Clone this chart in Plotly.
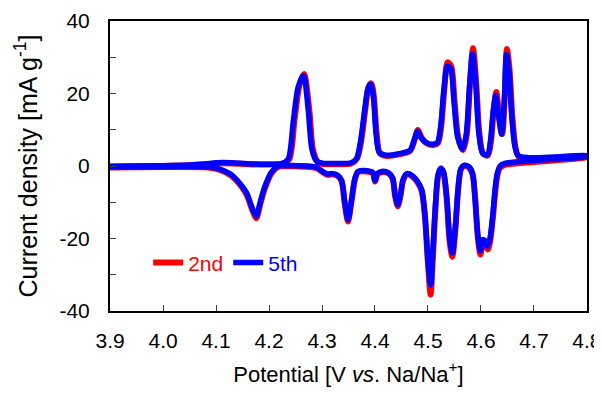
import plotly.graph_objects as go

# ---- 5th cycle (blue) ----
pot_5th_ox = [3.900, 3.950, 4.000, 4.050, 4.085, 4.100, 4.130, 4.160, 4.200, 4.225,
              4.236, 4.246, 4.255, 4.265, 4.274, 4.281, 4.290, 4.300, 4.330, 4.355,
              4.365, 4.373, 4.381, 4.387, 4.392, 4.397, 4.402, 4.408, 4.420, 4.445,
              4.466, 4.474, 4.480, 4.487, 4.497, 4.510, 4.518, 4.524, 4.530, 4.537,
              4.543, 4.549, 4.556, 4.565, 4.572, 4.578, 4.584, 4.590, 4.596, 4.603,
              4.612, 4.618, 4.623, 4.628, 4.633, 4.639, 4.644, 4.648, 4.653, 4.658,
              4.664, 4.670, 4.690, 4.740, 4.800]
cur_5th_ox = [-0.1, 0.0, 0.1, 0.3, 0.6, 0.9, 0.9, 0.6, 0.5, 0.7,
              1.8, 12.5, 21.8, 25.0, 15.5, 4.6, 1.3, 0.8, 0.7, 0.9,
              2.0, 7.0, 16.0, 21.5, 22.5, 19.0, 9.0, 3.8, 3.0, 3.4,
              4.3, 7.2, 9.6, 7.8, 6.4, 6.0, 6.5, 11.0, 21.0, 27.6,
              26.8, 18.0, 8.0, 4.6, 8.5, 21.0, 31.0, 23.0, 9.0, 3.6,
              3.0, 7.0, 15.0, 19.5, 14.0, 8.8, 18.0, 30.8, 26.0, 14.0,
              5.5, 2.9, 2.3, 2.5, 2.9]
pot_5th_rd = [4.800, 4.750, 4.700, 4.665, 4.645, 4.636, 4.631, 4.627, 4.622, 4.617,
              4.612, 4.607, 4.603, 4.599, 4.594, 4.589, 4.584, 4.577, 4.568, 4.562,
              4.557, 4.552, 4.546, 4.541, 4.535, 4.529, 4.524, 4.519, 4.514, 4.509,
              4.505, 4.500, 4.494, 4.488, 4.480, 4.470, 4.460, 4.453, 4.448, 4.443,
              4.438, 4.433, 4.425, 4.413, 4.405, 4.400, 4.396, 4.385, 4.368, 4.362,
              4.356, 4.349, 4.343, 4.337, 4.330, 4.320, 4.310, 4.300, 4.290, 4.270,
              4.230, 4.218, 4.205, 4.192, 4.183, 4.176, 4.168, 4.158, 4.145, 4.130,
              4.115, 4.100, 4.085, 4.000, 3.900]
cur_5th_rd = [2.6, 2.0, 1.5, 1.1, 0.7, 0.0, -2.0, -6.0, -14.0, -20.0,
              -22.2, -20.5, -20.3, -23.4, -19.0, -9.0, -2.0, -0.2, 0.2, -0.8,
              -6.0, -16.0, -24.0, -20.0, -8.0, -1.5, -0.6, -2.5, -11.0, -24.0,
              -32.8, -26.0, -13.0, -6.5, -4.2, -2.6, -2.1, -3.8, -8.0, -10.7,
              -8.0, -3.2, -1.8, -1.5, -2.0, -4.1, -1.8, -1.3, -1.5, -3.5,
              -9.0, -14.8, -10.0, -4.0, -2.6, -2.1, -2.2, -1.4, -0.4, 0.0,
              0.1, 0.0, -1.6, -5.7, -10.2, -13.8, -11.5, -7.5, -4.8, -2.5,
              -1.3, -0.6, -0.2, -0.2, -0.3]

# ---- 2nd cycle (red) ----
pot_2nd_ox = [3.900, 3.950, 4.000, 4.050, 4.085, 4.100, 4.130, 4.160, 4.200, 4.225,
              4.238, 4.248, 4.257, 4.266, 4.276, 4.283, 4.292, 4.300, 4.330, 4.355,
              4.366, 4.374, 4.382, 4.388, 4.393, 4.398, 4.403, 4.409, 4.420, 4.445,
              4.466, 4.475, 4.481, 4.488, 4.498, 4.510, 4.519, 4.525, 4.531, 4.537,
              4.544, 4.550, 4.557, 4.566, 4.573, 4.579, 4.585, 4.591, 4.597, 4.604,
              4.613, 4.619, 4.624, 4.629, 4.634, 4.640, 4.645, 4.649, 4.654, 4.659,
              4.665, 4.671, 4.690, 4.740, 4.800]
cur_2nd_ox = [-0.2, -0.1, 0.0, 0.2, 0.5, 0.7, 0.7, 0.5, 0.4, 0.6,
              1.8, 12.5, 22.0, 25.4, 15.5, 4.4, 1.1, 0.6, 0.5, 0.7,
              2.0, 7.0, 16.0, 21.8, 22.8, 19.0, 9.0, 3.6, 2.8, 3.2,
              4.1, 7.3, 9.9, 7.8, 6.2, 5.8, 6.4, 11.0, 21.5, 28.6,
              27.4, 18.0, 8.0, 4.4, 8.5, 22.0, 32.5, 23.0, 9.0, 3.4,
              2.9, 7.0, 15.5, 20.4, 14.0, 8.8, 19.0, 32.3, 26.5, 14.0,
              5.2, 2.6, 2.0, 2.3, 2.7]
pot_2nd_rd = [4.800, 4.750, 4.700, 4.665, 4.645, 4.636, 4.631, 4.627, 4.622, 4.617,
              4.613, 4.608, 4.604, 4.599, 4.594, 4.589, 4.584, 4.577, 4.568, 4.562,
              4.557, 4.552, 4.546, 4.541, 4.535, 4.529, 4.524, 4.519, 4.514, 4.509,
              4.505, 4.500, 4.494, 4.488, 4.480, 4.470, 4.460, 4.453, 4.448, 4.443,
              4.438, 4.433, 4.425, 4.413, 4.405, 4.400, 4.396, 4.385, 4.368, 4.362,
              4.356, 4.349, 4.343, 4.337, 4.330, 4.320, 4.310, 4.300, 4.290, 4.270,
              4.230, 4.218, 4.205, 4.192, 4.183, 4.176, 4.168, 4.158, 4.145, 4.130,
              4.115, 4.100, 4.085, 4.000, 3.900]
cur_2nd_rd = [2.4, 1.7, 1.1, 0.7, 0.3, -0.5, -2.5, -7.0, -15.0, -21.0,
              -23.0, -21.5, -21.0, -24.4, -19.5, -9.0, -2.2, -0.4, 0.0, -1.0,
              -6.5, -17.0, -25.0, -21.0, -8.5, -1.8, -0.8, -2.8, -12.0, -26.0,
              -35.5, -27.0, -13.5, -6.8, -4.4, -2.8, -2.3, -4.0, -8.3, -11.1,
              -8.3, -3.4, -2.0, -1.7, -2.2, -4.3, -2.0, -1.5, -1.7, -3.8,
              -9.5, -15.3, -10.5, -4.2, -2.8, -2.3, -2.4, -1.6, -0.6, -0.2,
              -0.1, -0.2, -1.9, -6.2, -10.8, -14.4, -12.0, -8.0, -5.1, -2.8,
              -1.5, -0.8, -0.4, -0.3, -0.4]

x_tickvals = [3.9, 4.0, 4.1, 4.2, 4.3, 4.4, 4.5, 4.6, 4.7, 4.8]
x_ticktext = ["3.9", "4.0", "4.1", "4.2", "4.3", "4.4", "4.5", "4.6", "4.7", "4.8"]
y_tickvals = [-40, -20, 0, 20, 40]
y_ticktext = ["-40", "-20", "0", "20", "40"]
y_minor = [-30, -10, 10, 30]

FONT = "Liberation Sans, Arial, sans-serif"

fig = go.Figure()
fig.add_trace(go.Scatter(
    x=pot_2nd_ox + pot_2nd_rd, y=cur_2nd_ox + cur_2nd_rd, mode="lines",
    name="<span style='color:#ff0000'>2nd</span>",
    line=dict(color="#ff0000", width=6, shape="spline", smoothing=0.8)))
fig.add_trace(go.Scatter(
    x=pot_5th_ox + pot_5th_rd, y=cur_5th_ox + cur_5th_rd, mode="lines",
    name="<span style='color:#0000ff'>5th</span>",
    line=dict(color="#0000ff", width=5.5, shape="spline", smoothing=0.8)))

# the page body has an 8 px default margin; size the figure so it fills 602x393
fig.update_layout(
    width=594, height=385,
    margin=dict(l=102, r=15, t=13, b=82, autoexpand=False),
    paper_bgcolor="white", plot_bgcolor="white",
    font=dict(family=FONT, size=21, color="black"),
    showlegend=True,
    legend=dict(orientation="h", x=0.08, y=0.166, xanchor="left", yanchor="middle",
                bgcolor="rgba(0,0,0,0)", font=dict(size=21), itemwidth=30),
)
fig.update_xaxes(
    range=[3.8999, 4.8001], tickvals=x_tickvals, ticktext=x_ticktext,
    ticks="inside", ticklen=6, tickwidth=1, tickcolor="#444",
    showline=True, linecolor="black", linewidth=2, mirror=True,
    showgrid=False, zeroline=False, automargin=False,
    tickfont=dict(size=21), ticklabelstandoff=10,
    title=dict(text="Potential [V <i>vs</i>. Na/Na<sup>+</sup>]", font=dict(size=22)),
)
fig.update_yaxes(
    range=[-40, 40], tickvals=y_tickvals, ticktext=y_ticktext,
    ticks="inside", ticklen=6, tickwidth=1, tickcolor="#444",
    minor=dict(tickvals=y_minor, ticks="inside", ticklen=6, tickwidth=1, tickcolor="#444"),
    showline=True, linecolor="black", linewidth=2, mirror=True,
    showgrid=False, zeroline=False, automargin=False,
    tickfont=dict(size=21), ticklabelstandoff=14,
    title=dict(text="Current density [mA g<sup>-1</sup>]", font=dict(size=25)),
)

fig.write_html("out.html")
